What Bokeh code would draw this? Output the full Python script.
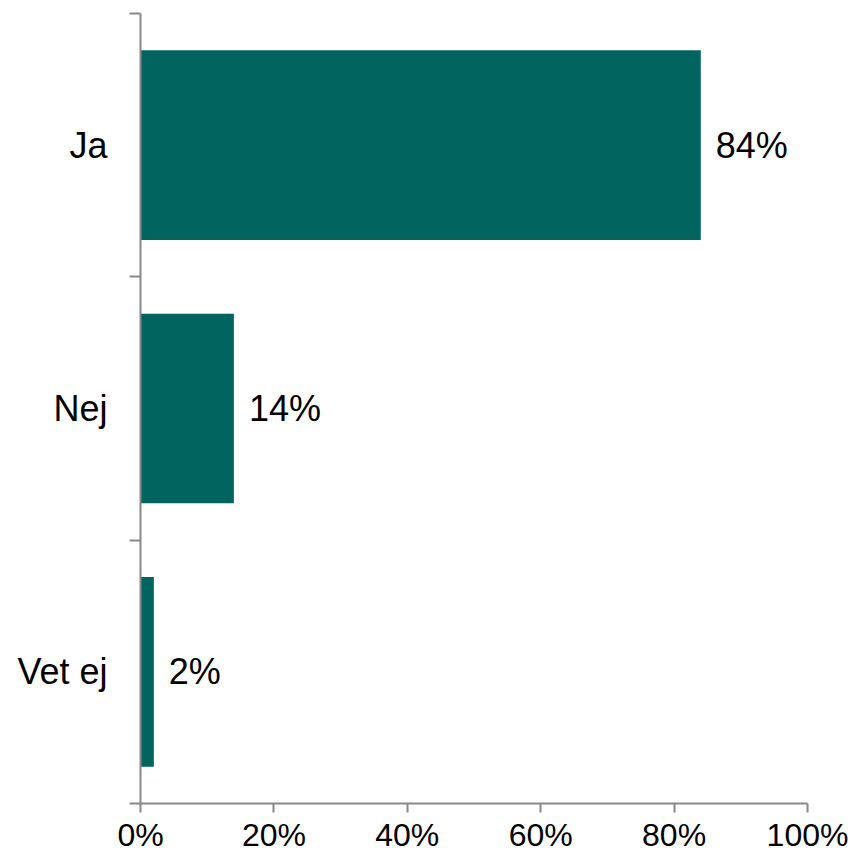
from bokeh.plotting import figure
from bokeh.models import Range1d, FixedTicker, PrintfTickFormatter, ColumnDataSource
from bokeh.core.properties import value
from bokeh.embed import file_html
from bokeh.resources import INLINE

categories = ["Ja", "Nej", "Vet ej"]
values = [84, 14, 2]
value_labels = ["84%", "14%", "2%"]
x_ticks = [0, 20, 40, 60, 80, 100]

n = len(categories)
ypos = [n - i - 0.5 for i in range(n)]

FONT = "Liberation Sans"
BAR = "#02645F"
AXIS = "#888888"

p = figure(width=850, height=855, output_backend="svg", toolbar_location=None,
           x_range=Range1d(0, 100), y_range=Range1d(0, n),
           min_border_left=140, min_border_right=43, min_border_top=13, min_border_bottom=40)
p.outline_line_color = None
p.xgrid.visible = False
p.ygrid.visible = False
p.background_fill_color = "white"
p.border_fill_color = "white"

src = ColumnDataSource(dict(y=ypos, v=values, lab=value_labels))
p.hbar(y="y", left=0, right="v", height=0.72, source=src, fill_color=BAR, line_color=None)
p.text(x="v", y="y", text="lab", source=src, x_offset=15, text_baseline="middle",
       text_align="left", text_font=value(FONT), text_font_size="36px", text_color="black")

# x axis
xa = p.xaxis[0]
xa.ticker = FixedTicker(ticks=x_ticks, minor_ticks=[])
xa.formatter = PrintfTickFormatter(format="%d%%")
xa.axis_line_color = AXIS
xa.axis_line_width = 2
xa.major_tick_line_color = AXIS
xa.major_tick_line_width = 2
xa.major_tick_out = 9
xa.major_tick_in = 0
xa.minor_tick_line_color = None
xa.major_label_standoff = 4
xa.major_label_text_font = FONT
xa.major_label_text_font_size = "32px"
xa.major_label_text_color = "black"

# y axis: labels at category centers, ticks at boundaries
ya = p.yaxis[0]
ya.ticker = FixedTicker(ticks=ypos, minor_ticks=[float(i) for i in range(n + 1)])
ya.major_label_overrides = {y: c for y, c in zip(ypos, categories)}
ya.axis_line_color = AXIS
ya.axis_line_width = 2
ya.major_tick_line_color = None
ya.major_tick_out = 0
ya.major_tick_in = 0
ya.minor_tick_line_color = AXIS
ya.minor_tick_line_width = 2
ya.minor_tick_out = 11
ya.minor_tick_in = 0
ya.major_label_standoff = 22
ya.major_label_text_font = FONT
ya.major_label_text_font_size = "36px"
ya.major_label_text_color = "black"

open("out.html", "w").write(file_html(p, INLINE))
